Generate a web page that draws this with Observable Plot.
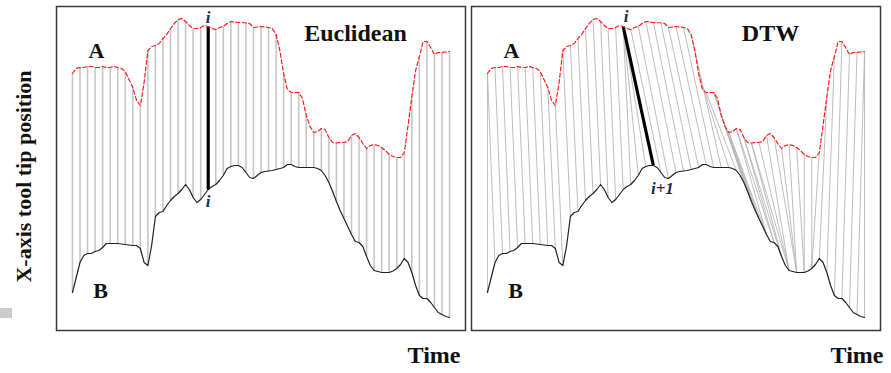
<!DOCTYPE html>
<html><head><meta charset="utf-8">
<script src="https://cdn.jsdelivr.net/npm/d3@7"></script>
<script src="https://cdn.jsdelivr.net/npm/@observablehq/plot@0.6"></script>
<style>
body{margin:0;background:#fff;}
#wrap{position:relative;width:891px;height:373px;overflow:hidden;}
#blip{position:absolute;left:0;top:308px;width:12px;height:10px;background:#cbcbcb;}
#wrap svg{position:absolute;left:0;top:0;}
</style></head><body><div id="wrap"><div id="blip"></div></div>
<script>
// Panels
const panels = ["Euclidean", "DTW"];
// Series A (red dashed), sampled every half time step (101 points, t = 0..50)
const aValues = [257,262,263,263,264,264,263,263,264,263,
  263,264,263,262,259,251,243,230,225,248,
  280,284,285,287,292,296,302,307,311,312,
  309,305,302,302,303,305,304,302,301,303,
  304,307,309,308.5,308,308,307.5,307,303,303.5,
  304,303.5,303,302,296,280,257,241,238,238,
  238,232,215,204,198,199,202,201,193,188,
  187.5,188,188,189,195,197,193,187,182,185,
  186,185,183,180,176,174,173,173,178,205,
  234,260,274,289,289,283,276,278,278,278.5,
  279];
// Series B (black solid), same sampling
const bValues = [38,53,68,75,77,77,79,80,83,87,
  87,87,87,86.5,86,85.5,85,85,82,68,
  65,85,114,118,119,125,130,134,137,141,
  146,141,133,128,131,136,141,144,146,150,
  155,162,164,165,165,163,158,153,152,155,
  158,159,159.5,160,161,162,163,166,166,164,
  163,163,163,163,163,162,160,155,148,139,
  129,120,112,104,96,89,88,84,74,65,
  60,59,58,58,58,59.5,62,66,72,68,
  58,45,35,32,32,28,23,18,16,14,
  13];
// DTW warping path: sample index in A and matched sample index in B
const dtwA = [0,0,1,2,3,4,5,6,7,8,9,10,11,12,13,14,15,16,17,
  18,18,18,18,
  19,20,21,22,23,24,25,26,27,28,29,
  30,30,31,31,32,32,33,33,34,34,35,35,
  36,37,38,39,40,41,42,43,44,45,46,47,48,49,50,50];
const dtwB = [0,1,2,3,4,5,6,7,8,9,10,11,12,13,14,15,16,17,18,
  19,20,21,22,
  23,24,25,26,27,28,29,30,31,32,33,
  34,35,35,36,36,37,37,38,38,39,39,40,
  40,40,41,41,41,42,42,43,43,44,45,46,47,48,49,50];
// highlighted pair
const highlightA = 18;
const highlightB = 22;
const yLabel = "X-axis tool tip position";
const xLabel = "Time";

const curve = aValues.map((a, k) => ({t: k / 2, a, b: bValues[k]}));
const euclid = curve.filter((d, k) => k % 2 === 0).map(d => ({panel: "Euclidean", ...d}));
const dtw = dtwA.map((i, n) => ({panel: "DTW", t1: i, a: aValues[2 * i], t2: dtwB[n], b: bValues[2 * dtwB[n]]}));
const hiEu = [{panel: "Euclidean", t1: highlightA, a: aValues[2 * highlightA], t2: highlightA, b: bValues[2 * highlightA]}];
const hiDtw = [{panel: "DTW", t1: highlightA, a: aValues[2 * highlightA], t2: highlightB, b: bValues[2 * highlightB]}];

const serif = "'Liberation Serif', 'Times New Roman', serif";
const lab = {fontFamily: serif, fontWeight: "bold", fill: "#111"};

const chart = Plot.plot({
  width: 891, height: 373,
  marginLeft: 55, marginRight: 10, marginTop: 6, marginBottom: 43,
  facet: {marginTop: 0, marginBottom: 0, marginLeft: 0, marginRight: 0},
  fx: {domain: panels, paddingInner: 0.0144, paddingOuter: 0, axis: null, label: null},
  x: {domain: [-2.116, 52.116], axis: null},
  y: {domain: [0, 324], axis: null},
  style: {background: "transparent", overflow: "visible"},
  marks: [
    Plot.link(euclid, {fx: "panel", x1: "t", y1: "a", x2: "t", y2: "b", stroke: "#c6c6c6", strokeWidth: 1.6}),
    Plot.link(dtw, {fx: "panel", x1: "t1", y1: "a", x2: "t2", y2: "b", stroke: "#b4b4b4", strokeWidth: 0.9}),
    Plot.link(hiEu.concat(hiDtw), {fx: "panel", x1: "t1", y1: "a", x2: "t2", y2: "b", stroke: "#000", strokeWidth: 3.2}),
    Plot.line(curve, {x: "t", y: "a", stroke: "#ff1a1a", strokeWidth: 1.2, strokeDasharray: "4,2.5"}),
    Plot.line(curve, {x: "t", y: "b", stroke: "#222", strokeWidth: 1.2}),
    // i labels
    Plot.text(hiEu, {fx: "panel", x: "t1", y: "a", text: () => "i", dy: -4, lineAnchor: "bottom", fontSize: 17, fontStyle: "italic", ...lab, fill: "#1b2a4a"}),
    Plot.text(hiEu, {fx: "panel", x: "t2", y: "b", text: () => "i", dy: 17, lineAnchor: "bottom", fontSize: 17, fontStyle: "italic", ...lab, fill: "#1b2a4a"}),
    Plot.text(hiDtw, {fx: "panel", x: "t1", y: "a", text: () => "i", dx: 3, dy: -5, lineAnchor: "bottom", fontSize: 17, fontStyle: "italic", ...lab, fill: "#1b2a4a"}),
    Plot.text(hiDtw, {fx: "panel", x: "t2", y: "b", text: () => "i+1", dx: 9, dy: 28, lineAnchor: "bottom", fontSize: 17, fontStyle: "italic", ...lab, fill: "#1b2a4a"}),
    // panel titles and series letters
    Plot.text(panels, {fx: d => d, text: d => d, frameAnchor: "top-left", dx: 299, dy: 34, textAnchor: "middle", lineAnchor: "bottom", fontSize: 24, ...lab}),
    Plot.text(panels, {fx: d => d, text: () => "A", frameAnchor: "top-left", dx: 40, dy: 51, textAnchor: "middle", lineAnchor: "bottom", fontSize: 22, ...lab}),
    Plot.text(panels, {fx: d => d, text: () => "B", frameAnchor: "top-left", dx: 44, dy: 291, textAnchor: "middle", lineAnchor: "bottom", fontSize: 22, ...lab}),
    // axis labels
    Plot.text([panels[0]], {fx: d => d, text: () => yLabel, frameAnchor: "left", rotate: -90, dx: -33, dy: 8, textAnchor: "middle", lineAnchor: "middle", fontSize: 22, ...lab}),
    Plot.text([panels[0]], {fx: d => d, text: () => xLabel, frameAnchor: "bottom-right", dx: -5, dy: 32, textAnchor: "end", lineAnchor: "bottom", fontSize: 24, ...lab}),
    Plot.text([panels[1]], {fx: d => d, text: () => xLabel, frameAnchor: "bottom-right", dx: 3, dy: 32, textAnchor: "end", lineAnchor: "bottom", fontSize: 24, ...lab}),
    Plot.frame({stroke: "#3a3a3a", strokeWidth: 1.5})
  ]
});
document.getElementById("wrap").appendChild(chart);
</script></body></html>
